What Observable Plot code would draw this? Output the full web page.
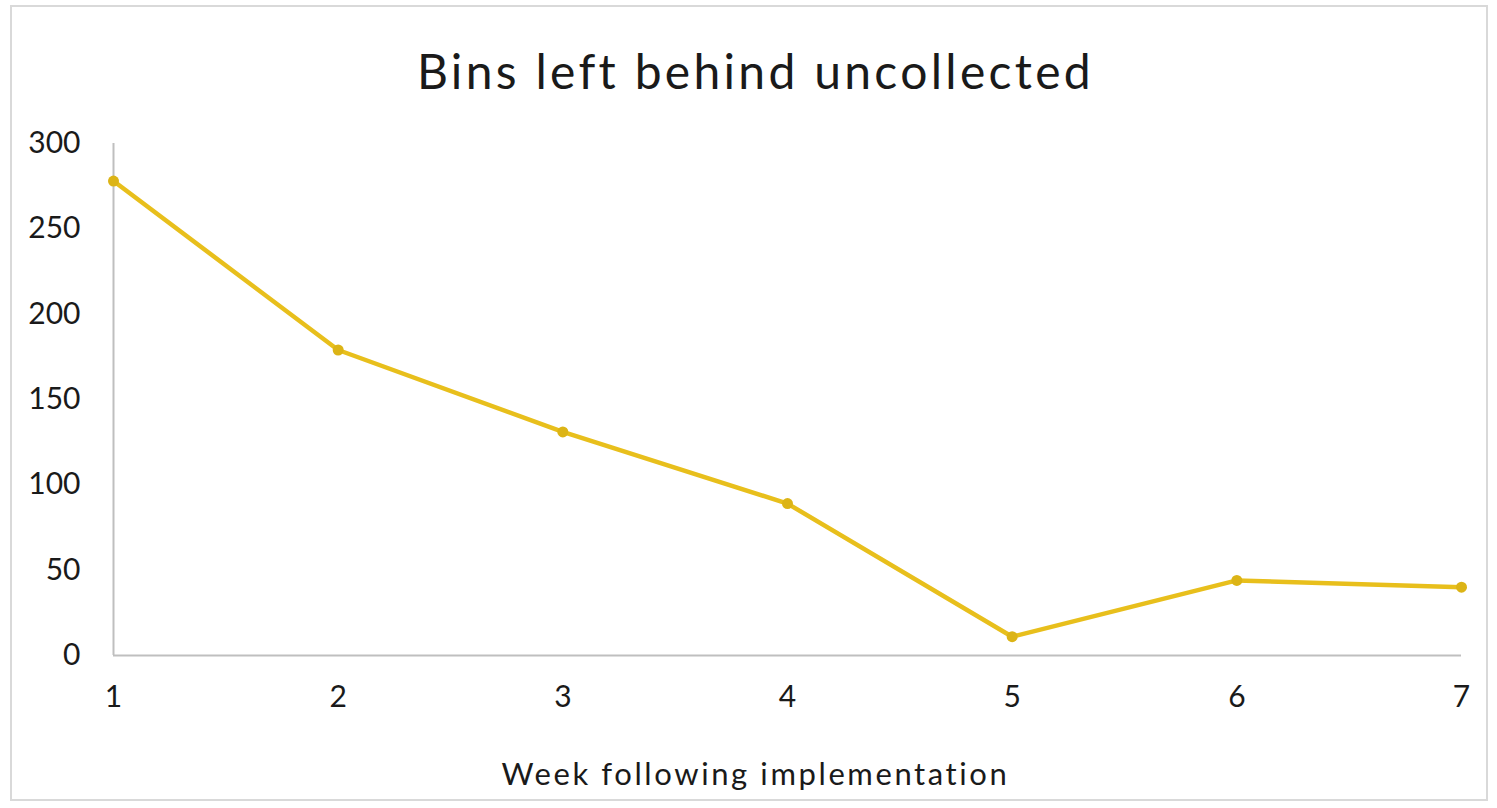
<!DOCTYPE html>
<html>
<head>
<meta charset="utf-8">
<script src="https://cdn.jsdelivr.net/npm/d3@7"></script>
<script src="https://cdn.jsdelivr.net/npm/@observablehq/plot@0.6"></script>
<style>
  html, body { margin: 0; padding: 0; background: #fff; }
  #wrap { position: relative; width: 1497px; height: 808px; overflow: hidden; font-family: Lato, "Open Sans", sans-serif; }
  #frame { position: absolute; left: 10px; top: 5px; width: 1478px; height: 796px; border: 2px solid #d9d9d9; box-sizing: border-box; }
  #title { position: absolute; left: 0; width: 1497px; top: 42px; text-align: center; font-size: 48px; letter-spacing: 3.3px; color: #1a1a1a; padding-left: 14px; box-sizing: border-box; }
  #xlabel { position: absolute; left: 0; width: 1497px; top: 754px; text-align: center; font-size: 31px; letter-spacing: 2.6px; color: #1a1a1a; padding-left: 14px; box-sizing: border-box; }
  #chart { position: absolute; left: 0; top: 0; }
</style>
</head>
<body>
<div id="wrap">
  <div id="frame"></div>
  <div id="title">Bins left behind uncollected</div>
  <div id="chart"></div>
  <div id="xlabel">Week following implementation</div>
</div>
<script>
const weeks = [1, 2, 3, 4, 5, 6, 7];
const bins = [278, 179, 131, 89, 11, 44, 40];
const yTicks = [0, 50, 100, 150, 200, 250, 300];
const xTicks = [1, 2, 3, 4, 5, 6, 7];

const data = weeks.map((w, i) => ({week: w, bins: bins[i]}));
const lineColor = "#e8bf1c";

const chart = Plot.plot({
  width: 1497,
  height: 740,
  marginLeft: 113,
  marginRight: 36,
  marginTop: 143,
  marginBottom: 85,
  style: {fontFamily: "Lato, 'Open Sans', sans-serif", fontSize: "30px", color: "#1a1a1a", background: "transparent"},
  x: {domain: [1, 7], ticks: xTicks, tickSize: 0, tickPadding: 30, label: null, tickFormat: d => String(d)},
  y: {domain: [0, 300], ticks: yTicks, tickSize: 0, tickPadding: 33, label: null},
  marks: [
    Plot.ruleY([0], {stroke: "#bfbfbf", strokeWidth: 2}),
    Plot.ruleX([1], {stroke: "#bfbfbf", strokeWidth: 2, y1: 0, y2: 300}),
    Plot.line(data, {x: "week", y: "bins", stroke: lineColor, strokeWidth: 4.5, strokeLinejoin: "round"}),
    Plot.dot(data, {x: "week", y: "bins", r: 5.5, fill: "#dcb416", stroke: null}),
    Plot.axisX({ticks: xTicks, tickSize: 0, tickPadding: 30, tickFormat: d => String(d)}),
    Plot.axisY({ticks: yTicks, tickSize: 0, tickPadding: 33})
  ]
});
document.getElementById("chart").appendChild(chart);
</script>
</body>
</html>
